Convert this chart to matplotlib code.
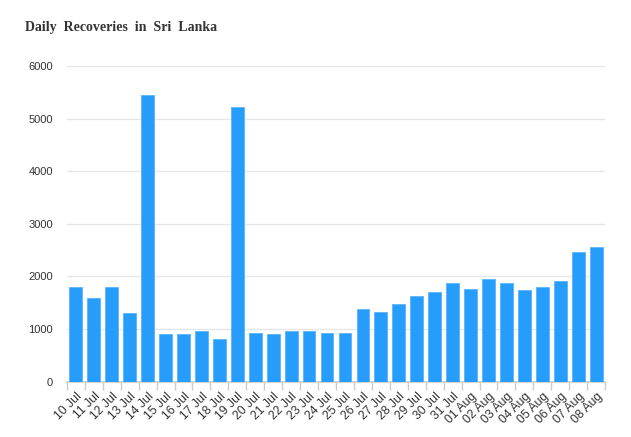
import matplotlib
matplotlib.use("Agg")
import matplotlib.pyplot as plt
import numpy as np

dates = ["10 Jul", "11 Jul", "12 Jul", "13 Jul", "14 Jul", "15 Jul", "16 Jul", "17 Jul",
         "18 Jul", "19 Jul", "20 Jul", "21 Jul", "22 Jul", "23 Jul", "24 Jul", "25 Jul",
         "26 Jul", "27 Jul", "28 Jul", "29 Jul", "30 Jul", "31 Jul", "01 Aug", "02 Aug",
         "03 Aug", "04 Aug", "05 Aug", "06 Aug", "07 Aug", "08 Aug"]
recoveries = [1796, 1585, 1792, 1302, 5440, 910, 910, 960, 815, 5215, 922, 910, 968, 960,
              935, 928, 1386, 1334, 1468, 1620, 1708, 1882, 1766, 1945, 1875, 1748, 1792,
              1920, 2472, 2555]
yticks = [0, 1000, 2000, 3000, 4000, 5000, 6000]

fig = plt.figure(figsize=(6.31, 4.37), dpi=100)
ax = fig.add_axes([0.106, 0.1265, 0.853, 0.7225])
x = np.arange(len(dates))
ax.bar(x, recoveries, width=0.71, color="#279dfb", edgecolor="#5ab4fb", linewidth=0.6, zorder=3)
ax.set_xlim(-0.5, len(dates) - 0.5)
ax.set_ylim(0, 6000)
ax.set_yticks(yticks)
ax.set_yticklabels([str(v) for v in yticks], fontsize=8, color="#333333", family="Liberation Sans")
ax.grid(axis="y", color="#e6e6e6", linewidth=1, zorder=0)
for s in ["left", "right", "top"]:
    ax.spines[s].set_visible(False)
ax.spines["bottom"].set_color("#cccccc")
ax.spines["bottom"].set_linewidth(1.2)
ax.tick_params(axis="y", length=0, pad=10)
ax.set_xticks(np.arange(len(dates) + 1) - 0.5, minor=False)
ax.set_xticklabels([])
ax.tick_params(axis="x", which="major", length=6, color="#cccccc", width=1)
ax.set_xticks(x, minor=True)
ax.set_xticklabels(dates, minor=True, rotation=45, ha="right", va="top", rotation_mode="anchor",
                   fontsize=8.8, color="#333333", family="Liberation Sans")
ax.tick_params(axis="x", which="minor", length=0, pad=6)
fig.text(0.04, 0.937, "Daily  Recoveries  in  Sri  Lanka", fontsize=10, fontweight="bold",
         family="Liberation Serif", color="#333333", ha="left", va="center")
fig.savefig("out.png", dpi=100)
